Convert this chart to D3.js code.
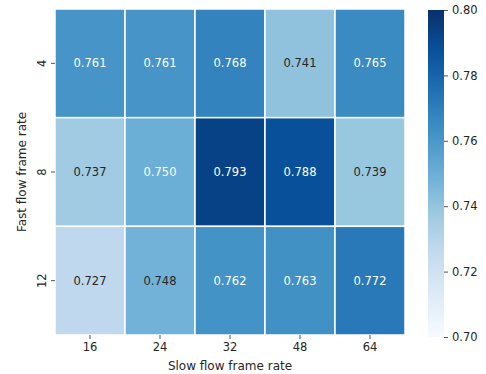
<!DOCTYPE html>
<html>
<head>
<meta charset="utf-8">
<script src="https://cdn.jsdelivr.net/npm/d3@7"></script>
<style>
  html, body { margin: 0; padding: 0; background: #fff; }
  svg { display: block; font-family: "DejaVu Sans", sans-serif; }
</style>
</head>
<body>
<svg id="chart" width="486" height="374"></svg>
<script>
// Slow flow frame rates (columns) and fast flow frame rates (rows)
const slowRates = ["16", "24", "32", "48", "64"];
const fastRates = ["4", "8", "12"];

// Accuracy per fast-rate row
const row4  = [0.761, 0.761, 0.768, 0.741, 0.765];
const row8  = [0.737, 0.750, 0.793, 0.788, 0.739];
const row12 = [0.727, 0.748, 0.762, 0.763, 0.772];

const colorbarTicks = [0.70, 0.72, 0.74, 0.76, 0.78, 0.80];
const valueDomain = [0.70, 0.80];

const rows = [row4, row8, row12];
const cells = [];
rows.forEach((vals, r) => vals.forEach((v, c) => cells.push({ row: fastRates[r], col: slowRates[c], value: v })));

// Blues colormap stops
const bluesStops = ["#f7fbff", "#deebf7", "#c6dbef", "#9ecae1", "#6baed6",
                    "#4292c6", "#2171b5", "#08519c", "#08306b"];
const color = d3.scaleLinear()
  .domain(d3.range(bluesStops.length).map(i => valueDomain[0] + (valueDomain[1] - valueDomain[0]) * i / (bluesStops.length - 1)))
  .range(bluesStops)
  .interpolate(d3.interpolateRgb)
  .clamp(true);

// Pick annotation colour from the cell's relative luminance
function luminance(c) {
  const rgb = d3.rgb(c);
  const lin = [rgb.r, rgb.g, rgb.b].map(v => {
    v /= 255;
    return v <= 0.03928 ? v / 12.92 : Math.pow((v + 0.055) / 1.055, 2.4);
  });
  return 0.2126 * lin[0] + 0.7152 * lin[1] + 0.0722 * lin[2];
}

const svg = d3.select("#chart");
const plot = { left: 55, top: 9, right: 405, bottom: 335 };

const x = d3.scaleBand().domain(slowRates).range([plot.left, plot.right]);
const y = d3.scaleBand().domain(fastRates).range([plot.top, plot.bottom]);

// Cells
svg.append("g").selectAll("rect")
  .data(cells).join("rect")
  .attr("x", d => x(d.col))
  .attr("y", d => y(d.row))
  .attr("width", x.bandwidth())
  .attr("height", y.bandwidth())
  .attr("fill", d => color(d.value))
  .attr("stroke", "#fff")
  .attr("stroke-width", 1.5);

// Value annotations
svg.append("g").selectAll("text")
  .data(cells).join("text")
  .attr("x", d => x(d.col) + x.bandwidth() / 2)
  .attr("y", d => y(d.row) + y.bandwidth() / 2)
  .attr("text-anchor", "middle")
  .attr("dominant-baseline", "central")
  .attr("font-size", 11.5)
  .attr("fill", d => luminance(color(d.value)) > 0.40 ? "#262626" : "#ffffff")
  .text(d => d.value.toFixed(3));

// X axis
const xAxis = svg.append("g")
  .attr("transform", `translate(0,${plot.bottom})`)
  .call(d3.axisBottom(x).tickSize(4).tickPadding(4));
xAxis.select(".domain").remove();
xAxis.selectAll("line").attr("stroke", "#262626").attr("stroke-width", 0.8);
xAxis.selectAll("text").attr("font-size", 11.5).attr("fill", "#262626").attr("font-family", "DejaVu Sans");

// Y axis with vertical tick labels
const yAxis = svg.append("g")
  .attr("transform", `translate(${plot.left},0)`)
  .call(d3.axisLeft(y).tickSize(4).tickPadding(0));
yAxis.select(".domain").remove();
yAxis.selectAll("line").attr("stroke", "#262626").attr("stroke-width", 0.8);
yAxis.selectAll("text")
  .attr("font-size", 11.5).attr("fill", "#262626").attr("font-family", "DejaVu Sans")
  .attr("x", null).attr("dy", null)
  .attr("text-anchor", "middle")
  .attr("dominant-baseline", "auto")
  .attr("transform", "translate(-9,0) rotate(-90)")
  .attr("y", 0);

// Axis titles
svg.append("text")
  .attr("x", (plot.left + plot.right) / 2)
  .attr("y", 370)
  .attr("text-anchor", "middle")
  .attr("font-size", 12)
  .attr("fill", "#262626")
  .text("Slow flow frame rate");

svg.append("text")
  .attr("transform", `translate(26,${(plot.top + plot.bottom) / 2}) rotate(-90)`)
  .attr("text-anchor", "middle")
  .attr("font-size", 12)
  .attr("fill", "#262626")
  .text("Fast flow frame rate");

// Colorbar
const cb = { x: 428, w: 16, top: 10, bottom: 337 };
const cbScale = d3.scaleLinear().domain(valueDomain).range([cb.bottom, cb.top]);

const defs = svg.append("defs");
const grad = defs.append("linearGradient")
  .attr("id", "cbGrad").attr("x1", 0).attr("y1", 1).attr("x2", 0).attr("y2", 0);
bluesStops.forEach((c, i) => {
  grad.append("stop").attr("offset", i / (bluesStops.length - 1)).attr("stop-color", c);
});
svg.append("rect")
  .attr("x", cb.x).attr("y", cb.top)
  .attr("width", cb.w).attr("height", cb.bottom - cb.top)
  .attr("fill", "url(#cbGrad)");

const cbAxis = svg.append("g")
  .attr("transform", `translate(${cb.x + cb.w},0)`)
  .call(d3.axisRight(cbScale).tickValues(colorbarTicks).tickFormat(d3.format(".2f")).tickSize(4).tickPadding(4));
cbAxis.select(".domain").remove();
cbAxis.selectAll("line").attr("stroke", "#262626").attr("stroke-width", 0.8);
cbAxis.selectAll("text").attr("font-size", 11.5).attr("fill", "#262626").attr("font-family", "DejaVu Sans");
</script>
</body>
</html>
